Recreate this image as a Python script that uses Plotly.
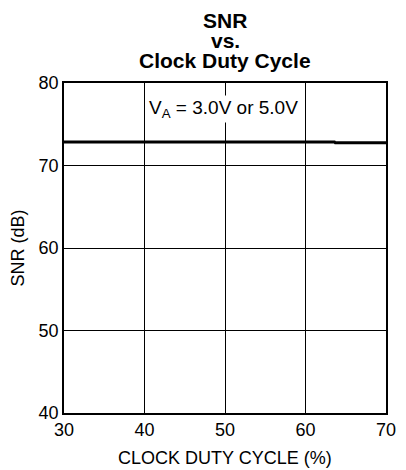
import plotly.graph_objects as go

duty_cycle = [30, 35, 40, 45, 50, 55, 60, 63.6, 63.7, 70]
snr_db = [72.85, 72.85, 72.85, 72.85, 72.85, 72.85, 72.85, 72.85, 72.75, 72.75]
x_ticks = [30, 40, 50, 60, 70]
y_ticks = [40, 50, 60, 70, 80]
title_lines = ["SNR", "vs.", "Clock Duty Cycle"]

font = "Liberation Sans, Arial, sans-serif"

fig = go.Figure()
fig.add_trace(go.Scatter(x=duty_cycle, y=snr_db, mode="lines",
                         line=dict(color="black", width=3), showlegend=False,
                         hoverinfo="skip"))

fig.add_annotation(x=49.8, y=76.85, xref="x", yref="y",
                   text="V<sub>A</sub> = 3.0V or 5.0V", showarrow=False,
                   font=dict(family=font, size=19, color="black"),
                   bgcolor="white", borderpad=1)

# title lines
for txt, yp in zip(title_lines, [1.1909, 1.1303, 1.0667]):
    fig.add_annotation(x=0.5, y=yp, xref="paper", yref="paper", text=f"<b>{txt}</b>",
                       showarrow=False, xanchor="center", yanchor="middle",
                       font=dict(family=font, size=21, color="black"))

# axis titles
fig.add_annotation(x=0.5, y=-0.137, xref="paper", yref="paper",
                   text="CLOCK DUTY CYCLE (%)", showarrow=False,
                   xanchor="center", yanchor="middle",
                   font=dict(family=font, size=18, color="black"))
fig.add_annotation(x=-0.1416, y=0.5, xref="paper", yref="paper",
                   text="SNR (dB)", showarrow=False, textangle=-90,
                   xanchor="center", yanchor="middle",
                   font=dict(family=font, size=18, color="black"))

fig.update_layout(
    width=406, height=470,
    margin=dict(l=64, r=10, t=83, b=57),
    paper_bgcolor="white", plot_bgcolor="white",
    font=dict(family=font, color="black"),
)
fig.update_xaxes(range=[30, 70], tickvals=x_ticks, showgrid=True, gridcolor="black",
                 gridwidth=1, showline=True, linecolor="black", linewidth=1.5, mirror=True,
                 zeroline=False, ticks="", tickfont=dict(size=18))
fig.update_yaxes(range=[40, 80], tickvals=y_ticks, showgrid=True, gridcolor="black",
                 gridwidth=1, showline=True, linecolor="black", linewidth=1.5, mirror=True,
                 zeroline=False, ticks="", tickfont=dict(size=18))

fig.write_html("out.html", config={"displayModeBar": False},
               post_script="document.body.style.margin='0';")
